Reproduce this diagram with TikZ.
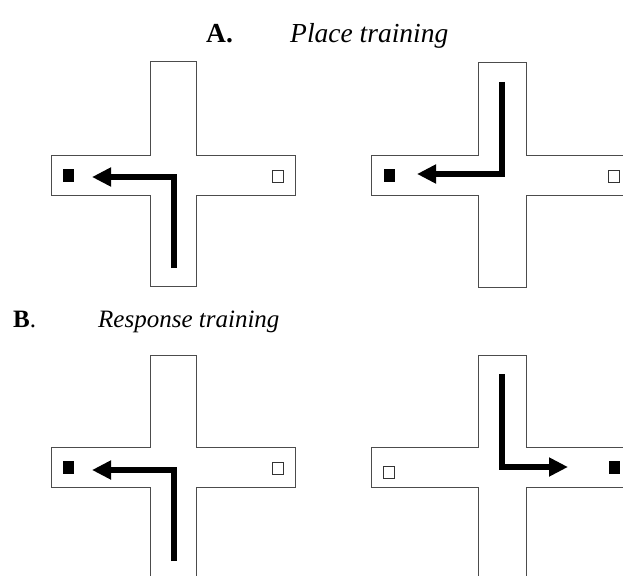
\documentclass[tikz,border=0pt]{standalone}
\usepackage{fontspec}
\setmainfont{Liberation Serif}
\usetikzlibrary{arrows.meta}

\begin{document}
\begin{tikzpicture}
  [x=1pt,y=-1pt,
   maze/.style={draw=black!70,line width=1pt,fill=white},
   full/.style={rectangle,fill=black,inner sep=0pt,minimum width=11pt,minimum height=13pt},
   empty/.style={rectangle,draw=black!80,line width=.8pt,fill=white,inner sep=0pt,minimum width=11pt,minimum height=12pt},
   run/.style={line width=6.5pt,-{Triangle[length=19pt,width=18pt]}},
   title/.style={font=\fontsize{27.5}{32}\selectfont,anchor=base west,inner sep=0pt}]
  \clip (0,0) rectangle (623,575);

  % headings
  \node[title] (ta) at (206,43) {\textbf{A.}};
  \node[title] (tat) at (290,43) {\textit{Place training}};
  \node[title,font=\fontsize{25}{30}\selectfont] (tb) at (13,327) {\textbf{B}.};
  \node[title,font=\fontsize{25}{30}\selectfont] (tbt) at (98,327) {\textit{Response training}};

  % mazes
  \draw[maze] (150,62) -- (196,62) -- (196,155) -- (295,155) -- (295,195) -- (196,195)
    -- (196,286) -- (150,286) -- (150,195) -- (51,195) -- (51,155) -- (150,155) -- cycle;
  \draw[maze] (478,63) -- (526,63) -- (526,155) -- (640,155) -- (640,195) -- (526,195)
    -- (526,287) -- (478,287) -- (478,195) -- (371,195) -- (371,155) -- (478,155) -- cycle;
  \draw[maze] (150,355) -- (196,355) -- (196,447) -- (295,447) -- (295,487) -- (196,487)
    -- (196,590) -- (150,590) -- (150,487) -- (51,487) -- (51,447) -- (150,447) -- cycle;
  \draw[maze] (478,355) -- (526,355) -- (526,447) -- (640,447) -- (640,487) -- (526,487)
    -- (526,590) -- (478,590) -- (478,487) -- (371,487) -- (371,447) -- (478,447) -- cycle;

  % goal boxes
  \node[full] (tl-full) at (68.5,175.5) {};
  \node[empty] (tl-empty) at (277.5,176) {};
  \node[full] (tr-full) at (389,175.5) {};
  \node[empty] (tr-empty) at (614,176) {};
  \node[full] (bl-full) at (68.5,467.5) {};
  \node[empty] (bl-empty) at (277.5,468.5) {};
  \node[empty] (br-empty) at (389,472.5) {};
  \node[full] (br-full) at (614,467.5) {};

  % runs
  \coordinate (tl-start) at (174,268);
  \coordinate (tl-turn) at (174,177);
  \coordinate (tl-tip) at (92,177);
  \coordinate (tr-start) at (502,82);
  \coordinate (tr-turn) at (502,174);
  \coordinate (tr-tip) at (417,174);
  \coordinate (bl-start) at (174,561);
  \coordinate (bl-turn) at (174,470);
  \coordinate (bl-tip) at (92,470);
  \coordinate (br-start) at (502,374);
  \coordinate (br-turn) at (502,467);
  \coordinate (br-tip) at (568,467);

  \foreach \m in {tl,tr,bl,br}
    \draw[run] (\m-start) -- (\m-turn) -- (\m-tip);

\end{tikzpicture}
\end{document}
